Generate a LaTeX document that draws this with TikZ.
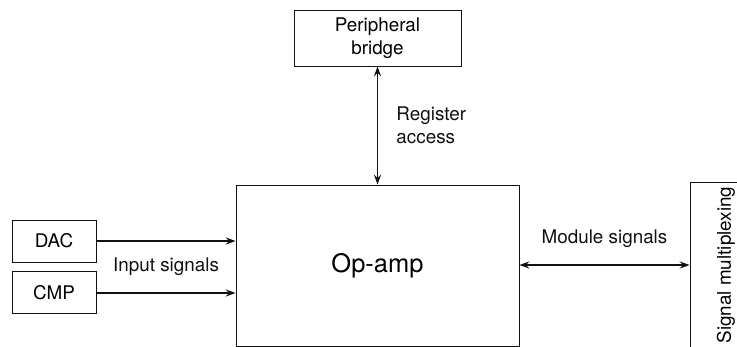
\documentclass[tikz,border=0pt]{standalone}
\usepackage{fontspec}
\setmainfont{TeX Gyre Heros}
\usepackage{xcolor}
\usepackage{tikz}
\usetikzlibrary{arrows.meta,positioning,calc}
\definecolor{mlink}{HTML}{111111}
\tikzset{
  box/.style   ={draw=mlink,line width=0.7pt,align=center,inner sep=2pt,
                 font=\fontsize{13.4}{16.5}\selectfont},
  flow/.style  ={-{Stealth[length=2.5mm,width=1.8mm,inset=0.9mm]},line width=0.75pt,draw=mlink},
  both/.style  ={{Stealth[length=2.5mm,width=1.8mm,inset=0.9mm]}-{Stealth[length=2.5mm,width=1.8mm,inset=0.9mm]},
                 line width=0.75pt,draw=mlink},
  lbl/.style   ={align=left,font=\fontsize{13.4}{16.5}\selectfont,text=mlink}
}
\begin{document}
\begin{tikzpicture}
        \useasboundingbox (0,0) rectangle (18.425,8.65);
        \node[box,minimum width=7.075cm,minimum height=4.025cm,
              font=\fontsize{18.1}{21}\selectfont] (opamp) at (9.4375,2.0125) {Op-amp};
        \node[box,minimum width=4.175cm,minimum height=1.4cm] (bridge) at (9.4375,7.7)
          {Peripheral\\bridge};
        \node[box,minimum width=2.1cm,minimum height=1.05cm] (dac) at (1.35,2.625) {DAC};
        \node[box,minimum width=2.1cm,minimum height=1.05cm,below=0.225cm of dac] (cmp) {CMP};
        \node[box,rotate=90,minimum width=4.15cm,minimum height=1.8cm] (mux) at (18.15,2.025)
          {Signal multiplexing};
        % input side
        \draw[flow] (dac.east) -- (dac.east -| opamp.west);
        \draw[flow] (cmp.east) -- (cmp.east -| opamp.west);
        \node[lbl] (insig) at ($(dac.east)!0.5!(cmp.east -| opamp.west)$) {Input signals};
        % bus side
        \draw[both] (opamp.north) -- coordinate[midway] (regmid) (bridge.south);
        \node[lbl,right=0.35cm of regmid] (regacc) {Register\\access};
        \draw[both] (opamp.east |- mux.center) -- coordinate[midway] (modmid) (mux.north);
        \node[lbl,above=0.3cm of modmid] (modsig) {Module signals};
      \end{tikzpicture}
\end{document}
